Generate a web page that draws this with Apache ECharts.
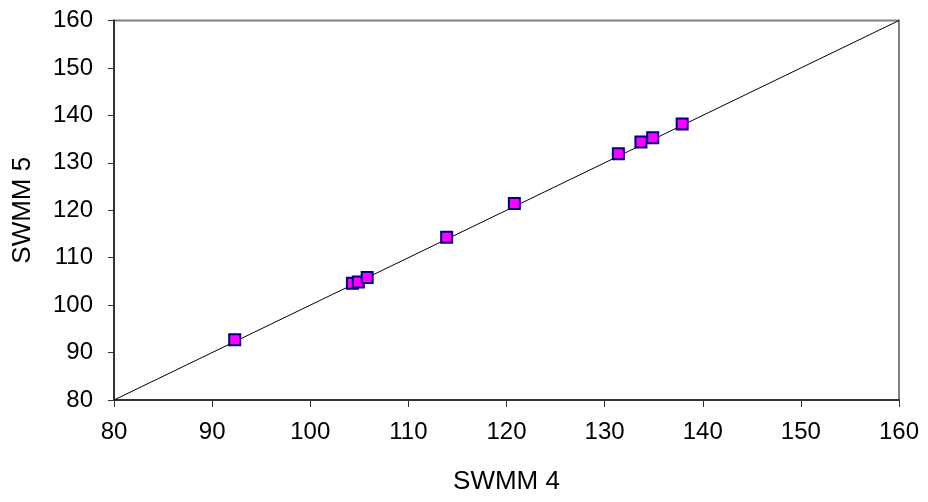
<!DOCTYPE html>
<html>
<head>
<meta charset="utf-8">
<script src="https://cdn.jsdelivr.net/npm/echarts@6/dist/echarts.min.js"></script>
<style>
html,body{margin:0;padding:0;background:#fff;}
#chart{width:928px;height:502px;}
</style>
</head>
<body>
<div id="chart"></div>
<script>
// Data
var swmm4 = [92.3, 104.3, 104.9, 105.8, 113.9, 120.8, 131.4, 133.7, 134.9, 137.9];
var swmm5 = [92.7, 104.6, 104.9, 105.8, 114.3, 121.4, 131.9, 134.4, 135.3, 138.2];
var lineX = [80, 160];
var lineY = [80, 160];
var xTitle = 'SWMM 4';
var yTitle = 'SWMM 5';

var chart = echarts.init(document.getElementById('chart'), null, {renderer: 'canvas'});
var pts = swmm4.map(function (v, i) { return [v, swmm5[i]]; });
var linePts = lineX.map(function (v, i) { return [v, lineY[i]]; });
var font = '"Liberation Sans", Arial, sans-serif';

chart.setOption({
  animation: false,
  backgroundColor: '#ffffff',
  grid: {
    left: 114, right: 29, top: 20.5, bottom: 102,
    containLabel: false, outerBoundsMode: 'none',
    show: true, borderColor: '#808080', borderWidth: 2, backgroundColor: '#ffffff'
  },
  xAxis: {
    type: 'value', min: 80, max: 160, interval: 10,
    name: xTitle, nameLocation: 'middle', nameGap: 69,
    nameTextStyle: {fontFamily: font, fontSize: 26, color: '#000'},
    axisLine: {show: true, onZero: false, lineStyle: {color: '#333333', width: 2}},
    axisTick: {show: true, inside: false, length: 7, lineStyle: {color: '#333333', width: 1}},
    axisLabel: {fontFamily: font, fontSize: 24, color: '#000', margin: 20},
    splitLine: {show: false}
  },
  yAxis: {
    type: 'value', min: 80, max: 160, interval: 10,
    name: yTitle, nameLocation: 'middle', nameGap: 78,
    nameTextStyle: {fontFamily: font, fontSize: 26, color: '#000'},
    axisLine: {show: true, onZero: false, lineStyle: {color: '#333333', width: 2}},
    axisTick: {show: true, inside: false, length: 6, lineStyle: {color: '#333333', width: 1}},
    axisLabel: {fontFamily: font, fontSize: 24, color: '#000', margin: 21},
    splitLine: {show: false}
  },
  series: [
    {
      type: 'line', data: linePts, showSymbol: false, symbol: 'none',
      lineStyle: {color: '#000000', width: 1}, z: 2, silent: true
    },
    {
      type: 'scatter', data: pts, symbol: 'rect', symbolSize: 11,
      itemStyle: {color: '#FF00FF', borderColor: '#000080', borderWidth: 2, opacity: 1},
      z: 3
    }
  ]
});
</script>
</body>
</html>
